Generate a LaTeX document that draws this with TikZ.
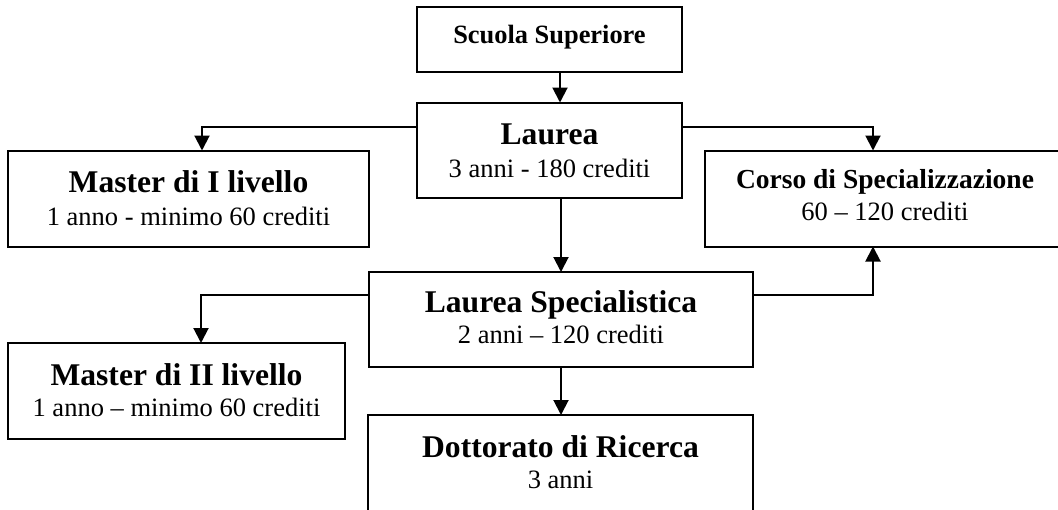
\documentclass[tikz,border=0pt]{standalone}
\usepackage{fontspec}
\setmainfont{Liberation Serif}
\usetikzlibrary{arrows.meta}
\begin{document}
\begin{tikzpicture}[x=1pt,y=-1pt,
  box/.style={draw=black,line width=2pt,inner sep=0pt,outer sep=0pt,rectangle},
  head/.style={anchor=base,inner sep=0pt,font=\fontsize{31.6}{36}\selectfont\bfseries},
  headsmall/.style={anchor=base,inner sep=0pt,font=\fontsize{27.5}{32}\selectfont\bfseries},
  headtop/.style={anchor=base,inner sep=0pt,font=\fontsize{26.4}{30}\selectfont\bfseries},
  sub/.style={anchor=base,inner sep=0pt,font=\fontsize{26.5}{30}\selectfont},
  arr/.style={line width=2pt,-{Triangle[length=15pt,width=15pt]}}]
\useasboundingbox (0,0) rectangle (1058,509);
\clip (0,0) rectangle (1058,509);
% boxes
\node[box,minimum width=265pt,minimum height=65pt] (scuola) at (549.5,39.5) {};
\node[box,minimum width=265pt,minimum height=95pt] (laurea) at (549.5,150) {};
\node[box,minimum width=361pt,minimum height=96pt] (master1) at (188.5,198.5) {};
\node[box,minimum width=360pt,minimum height=96pt] (corso) at (885,198.5) {};
\node[box,minimum width=384pt,minimum height=95pt] (lspec) at (561,319.5) {};
\node[box,minimum width=337pt,minimum height=96pt] (master2) at (176.5,391) {};
\node[box,minimum width=385pt,minimum height=110pt] (dott) at (560.5,470) {};
% texts
\node[headtop] (tscuola) at (549.5,43) {Scuola Superiore};
\node[head] (tlaurea) at (549.5,144) {Laurea};
\node[sub] (slaurea) at (549.5,177) {3 anni - 180 crediti};
\node[head] (tmaster1) at (188.5,192) {Master di I livello};
\node[sub] (smaster1) at (188.5,225) {1 anno - minimo 60 crediti};
\node[headsmall] (tcorso) at (885,188) {Corso di Specializzazione};
\node[sub] (scorso) at (885,220) {60 – 120 crediti};
\node[head] (tlspec) at (561,312) {Laurea Specialistica};
\node[sub] (slspec) at (561,343) {2 anni – 120 crediti};
\node[head] (tmaster2) at (176.5,385) {Master di II livello};
\node[sub] (smaster2) at (176.5,416) {1 anno – minimo 60 crediti};
\node[head] (tdott) at (560.5,457) {Dottorato di Ricerca};
\node[sub] (sdott) at (560.5,488) {3 anni};
% helper coordinates
\coordinate (xa) at (560,0);
\coordinate (xb) at (561,0);
\coordinate (xl) at (202,0);
\coordinate (xl2) at (201,0);
\coordinate (xr) at (873,0);
\coordinate (ya) at (0,127);
\coordinate (yb) at (0,294.5);
% connectors
\draw[arr] (scuola.south -| xa) -- (laurea.north -| xa);
\draw[arr] (laurea.west |- ya) -| (master1.north -| xl);
\draw[arr] (laurea.east |- ya) -| (corso.north -| xr);
\draw[arr] (laurea.south -| xb) -- (lspec.north -| xb);
\draw[arr] (lspec.east |- yb) -| (corso.south -| xr);
\draw[arr] (lspec.west |- yb) -| (master2.north -| xl2);
\draw[arr] (lspec.south -| xb) -- (dott.north -| xb);
\end{tikzpicture}
\end{document}
